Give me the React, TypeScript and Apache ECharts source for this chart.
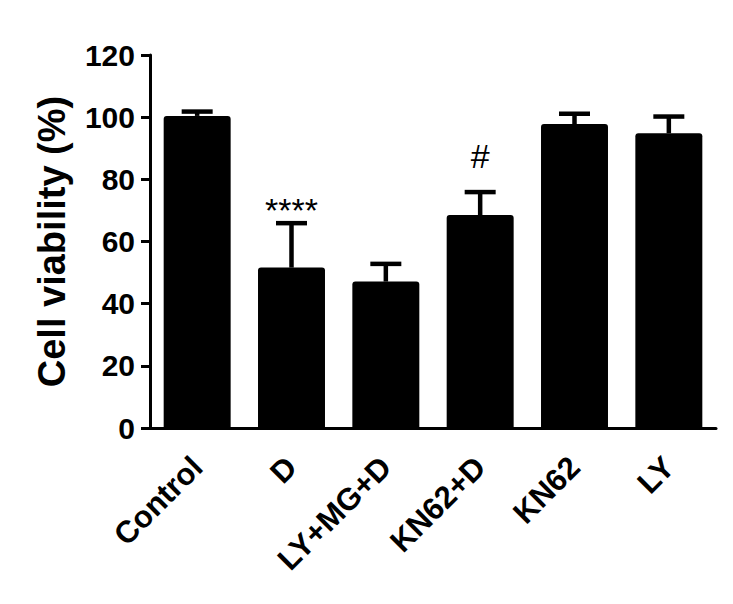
import React, { useEffect, useRef } from "react";
import * as echarts from "echarts";

const categories = ["Control", "D", "LY+MG+D", "KN62+D", "KN62", "LY"];
const means = [100.4, 51.6, 47.1, 68.5, 97.8, 94.8];
const sds = [1.4, 14.3, 5.7, 7.4, 3.3, 5.4];
const annotations = ["", "****", "", "#", "", ""];
const annotationY = [0, 70, 0, 87.5, 0, 0];
const yMin = 0;
const yMax = 120;
const yInterval = 20;

const FONT = "'Liberation Sans', Arial, Helvetica, sans-serif";

export default function App() {
  const ref = useRef<HTMLDivElement>(null);
  useEffect(() => {
    if (!ref.current) return;
    const chart = echarts.init(ref.current, undefined, { renderer: "svg" });
    const errData = categories.map((c, i) => [i, means[i], means[i] + sds[i]]);
    const annData = categories
      .map((c, i) => ({ i, t: annotations[i], y: annotationY[i] }))
      .filter((d) => d.t !== "")
      .map((d) => ({ value: [d.i, d.y], name: d.t }));
    chart.setOption({
      animation: false,
      backgroundColor: "#ffffff",
      grid: { left: 150, right: 17, top: 55, bottom: 176, containLabel: false },
      xAxis: {
        type: "category",
        data: categories,
        axisLine: { lineStyle: { color: "#000", width: 3 } },
        axisTick: { alignWithLabel: true, length: 9, lineStyle: { color: "#000", width: 3 } },
        axisLabel: {
          rotate: 45,
          margin: 34,
          color: "#000",
          fontSize: 31,
          fontWeight: "bold",
          fontFamily: FONT,
          interval: 0,
        },
      },
      yAxis: {
        type: "value",
        min: yMin,
        max: yMax,
        interval: yInterval,
        name: "Cell viability (%)",
        nameLocation: "middle",
        nameGap: 79,
        nameTextStyle: { color: "#000", fontSize: 38, fontWeight: "bold", fontFamily: FONT },
        axisLine: { show: true, lineStyle: { color: "#000", width: 3 } },
        axisTick: { show: true, length: 9, lineStyle: { color: "#000", width: 3 } },
        axisLabel: { margin: 15, color: "#000", fontSize: 30, fontWeight: "bold", fontFamily: FONT },
        splitLine: { show: false },
      },
      series: [
        {
          type: "bar",
          data: means,
          barWidth: "71%",
          itemStyle: { color: "#000", borderRadius: [3, 3, 0, 0] },
          z: 2,
        },
        {
          type: "custom",
          data: errData,
          z: 3,
          renderItem: (params: any, api: any) => {
            const x = api.value(0);
            const base = api.coord([x, api.value(1)]);
            const top = api.coord([x, api.value(2)]);
            return {
              type: "group",
              children: [
                {
                  type: "line",
                  shape: { x1: base[0], y1: base[1], x2: top[0], y2: top[1] },
                  style: { stroke: "#000", lineWidth: 4.5 },
                },
                {
                  type: "line",
                  shape: { x1: top[0] - 15.5, y1: top[1], x2: top[0] + 15.5, y2: top[1] },
                  style: { stroke: "#000", lineWidth: 4.5 },
                },
              ],
            };
          },
        },
        {
          type: "custom",
          data: annData,
          z: 4,
          renderItem: (params: any, api: any) => {
            const p = api.coord([api.value(0), api.value(1)]);
            const item = annData[params.dataIndex];
            return {
              type: "text",
              x: p[0],
              y: p[1],
              style: {
                text: item.name,
                fill: "#000",
                fontSize: 34,
                fontFamily: FONT,
                fontWeight: "normal",
                align: "center",
                verticalAlign: "middle",
              },
            };
          },
        },
      ],
    });
    return () => chart.dispose();
  }, []);
  return (
    <div
      ref={ref}
      style={{ position: "fixed", left: 0, top: 0, width: 733, height: 604, background: "#fff" }}
    />
  );
}
